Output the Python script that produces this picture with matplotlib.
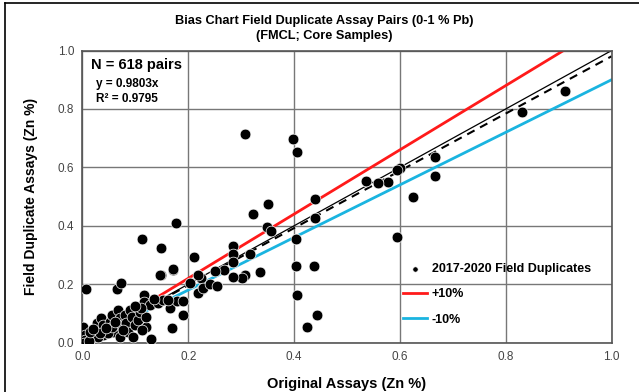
import numpy as np
import matplotlib.pyplot as plt
from matplotlib.lines import Line2D

plt.rcParams['font.family'] = ['Liberation Sans', 'DejaVu Sans']

# original vs duplicate assays (Zn %)
orig = [0.007, 0.308, 0.398, 0.405, 0.440, 0.440, 0.350, 0.323, 0.349, 0.356,
        0.176, 0.113, 0.148, 0.210, 0.285, 0.284, 0.316, 0.403, 0.403, 0.437,
        0.405, 0.424, 0.444, 0.336, 0.308, 0.302, 0.284, 0.268, 0.251, 0.285,
        0.225, 0.219, 0.204, 0.226, 0.219, 0.227, 0.241, 0.254, 0.172, 0.148,
        0.065, 0.073, 0.117, 0.117, 0.166, 0.178, 0.191, 0.191, 0.170, 0.129,
        0.121, 0.912, 0.830, 0.667, 0.666, 0.624, 0.601, 0.595, 0.578, 0.558,
        0.536, 0.595, 0.171, 0.146,
        0.001, 0.004, 0.004, 0.017, 0.023, 0.027, 0.036, 0.039, 0.039, 0.052,
        0.055, 0.058, 0.067, 0.071, 0.067, 0.071, 0.080, 0.083, 0.086, 0.090,
        0.093, 0.096, 0.099, 0.105, 0.108, 0.112, 0.121, 0.127, 0.143, 0.153,
        0.162, 0.030, 0.049, 0.055, 0.077, 0.033, 0.003, 0.012, 0.045, 0.062,
        0.014, 0.020, 0.110, 0.135, 0.100]
dup = [0.183, 0.714, 0.698, 0.652, 0.491, 0.428, 0.475, 0.439, 0.397, 0.383,
       0.409, 0.354, 0.323, 0.292, 0.331, 0.305, 0.305, 0.354, 0.264, 0.263,
       0.162, 0.053, 0.094, 0.243, 0.232, 0.222, 0.226, 0.249, 0.245, 0.276,
       0.221, 0.232, 0.205, 0.183, 0.169, 0.188, 0.202, 0.194, 0.249, 0.233,
       0.185, 0.205, 0.163, 0.140, 0.118, 0.143, 0.144, 0.094, 0.050, 0.012,
       0.053, 0.861, 0.791, 0.634, 0.571, 0.498, 0.597, 0.590, 0.551, 0.546,
       0.554, 0.361, 0.251, 0.232,
       0.055, 0.026, 0.010, 0.015, 0.043, 0.066, 0.083, 0.060, 0.026, 0.072,
       0.095, 0.038, 0.112, 0.083, 0.060, 0.020, 0.095, 0.066, 0.038, 0.112,
       0.089, 0.020, 0.060, 0.078, 0.106, 0.043, 0.089, 0.129, 0.134, 0.145,
       0.145, 0.020, 0.032, 0.055, 0.043, 0.032, 0.000, 0.005, 0.050, 0.070,
       0.035, 0.048, 0.120, 0.150, 0.125]

slope = 0.9803
xline = [0.0, 1.0]

fig = plt.figure(figsize=(6.39, 3.92), dpi=100)
ax = fig.add_axes([0.129, 0.126, 0.828, 0.745])

ax.set_xlim(0, 1)
ax.set_ylim(0, 1)
ticks = [0.0, 0.2, 0.4, 0.6, 0.8, 1.0]
ax.set_xticks(ticks)
ax.set_yticks(ticks)
ax.set_xticklabels(['%.1f' % t for t in ticks])
ax.set_yticklabels(['%.1f' % t for t in ticks])
ax.tick_params(length=0, labelsize=8.5, colors='#444444', pad=6)
ax.grid(True, color='#777777', lw=1)
ax.set_axisbelow(True)
for s in ax.spines.values():
    s.set_color('#555555')
    s.set_linewidth(1.2)

ax.plot(xline, [1.1 * x for x in xline], color='#ff1a1a', lw=2, label='+10%')
ax.plot(xline, [0.9 * x for x in xline], color='#1ab4e0', lw=2, label='-10%')
ax.plot(xline, xline, color='black', lw=0.9)
ax.plot(xline, [slope * x for x in xline], color='black', lw=1.5, ls=(0, (4, 3)))
ax.scatter(orig, dup, s=60, color='black', edgecolors='white', linewidths=0.5,
           zorder=5, label='2017-2020 Field Duplicates')

h, l = ax.get_legend_handles_labels()
order = [2, 0, 1]
leg = ax.legend([h[i] for i in order], [l[i] for i in order], loc='upper left',
                bbox_to_anchor=(0.585, 0.31), frameon=False, handlelength=1.9,
                prop={'weight': 'bold', 'size': 9}, markerscale=0.5,
                labelspacing=1.05, handletextpad=0.4)

ax.text(0.016, 0.975, 'N = 618 pairs', transform=ax.transAxes, fontsize=10.5,
        fontweight='bold', va='top', ha='left')
ax.text(0.025, 0.905, 'y = 0.9803x', transform=ax.transAxes, fontsize=8.5,
        fontweight='bold', va='top', ha='left')
ax.text(0.025, 0.855, 'R² = 0.9795', transform=ax.transAxes, fontsize=8.5,
        fontweight='bold', va='top', ha='left')

fig.text(0.508, 0.962, 'Bias Chart Field Duplicate Assay Pairs (0-1 % Pb)\n(FMCL; Core Samples)',
         ha='center', va='top', fontsize=9.2, fontweight='bold', linespacing=1.35)
ax.set_xlabel('Original Assays (Zn %)', fontsize=10.5, fontweight='bold', labelpad=10)
ax.set_ylabel('Field Duplicate Assays (Zn %)', fontsize=10, fontweight='bold', labelpad=14)

# outer border (top and left visible in the source)
fig.add_artist(Line2D([0.008, 1.0], [0.992, 0.992], color='black', lw=1.2))
fig.add_artist(Line2D([0.008, 0.008], [0.0, 0.992], color='black', lw=1.2))

fig.savefig('out.png', dpi=100)
